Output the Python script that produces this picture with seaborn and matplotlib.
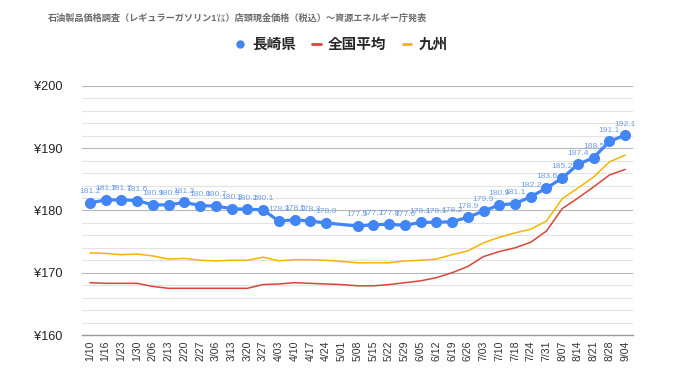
import numpy as np
import pandas as pd
import seaborn as sns
import matplotlib.pyplot as plt
from matplotlib.lines import Line2D
from matplotlib.ticker import MultipleLocator, FuncFormatter

# --- データ ---
dates = ['1/10', '1/16', '1/23', '1/30', '2/06', '2/13', '2/20', '2/27', '3/06', '3/13',
         '3/20', '3/27', '4/03', '4/10', '4/17', '4/24', '5/01', '5/08', '5/15', '5/22',
         '5/29', '6/05', '6/12', '6/19', '6/26', '7/03', '7/10', '7/18', '7/24', '7/31',
         '8/07', '8/14', '8/21', '8/28', '9/04']
nagasaki = [181.2, 181.7, 181.7, 181.6, 180.9, 180.9, 181.3, 180.8, 180.7, 180.3,
            180.2, 180.1, 178.3, 178.5, 178.3, 178.0, np.nan, 177.5, 177.7, 177.8,
            177.6, 178.1, 178.1, 178.2, 178.9, 179.9, 180.9, 181.1, 182.2, 183.6,
            185.2, 187.4, 188.5, 191.1, 192.1]
zenkoku = [168.4, 168.3, 168.3, 168.3, 167.8, 167.5, 167.5, 167.5, 167.5, 167.5,
           167.5, 168.1, 168.2, 168.4, 168.3, 168.2, 168.1, 167.9, 167.9, 168.1,
           168.4, 168.7, 169.2, 170.0, 171.0, 172.6, 173.4, 174.0, 174.9, 176.7,
           180.3, 182.0, 183.8, 185.7, 186.6]
kyushu = [173.2, 173.1, 172.9, 173.0, 172.7, 172.2, 172.3, 172.0, 171.9, 172.0,
          172.0, 172.5, 171.9, 172.1, 172.1, 172.0, 171.8, 171.6, 171.6, 171.6,
          171.9, 172.0, 172.2, 172.9, 173.5, 174.8, 175.7, 176.4, 177.0, 178.3,
          181.9, 183.6, 185.4, 187.8, 188.9]

title = '石油製品価格調査（レギュラーガソリン1㍑）店頭現金価格（税込）～資源エネルギー庁発表'

BLUE = '#4285f4'
RED = '#db4437'
YELLOW = '#f4b400'

sns.set_theme(style='white')
plt.rcParams['font.family'] = ['Liberation Sans', 'Noto Sans CJK JP', 'DejaVu Sans']

df = pd.DataFrame({'idx': range(len(dates)), '日付': dates,
                   '長崎県': nagasaki, '全国平均': zenkoku, '九州': kyushu})

fig = plt.figure(figsize=(6.8, 3.82), dpi=100)
ax = fig.add_axes([0.1206, 0.123, 0.8104, 0.652])

sns.lineplot(data=df, x='idx', y='全国平均', color=RED, lw=1.1, ax=ax, zorder=3)
sns.lineplot(data=df, x='idx', y='九州', color=YELLOW, lw=1.1, ax=ax, zorder=3)
sns.lineplot(data=df.dropna(subset=['長崎県']), x='idx', y='長崎県', color=BLUE, lw=2.3,
             marker='o', markersize=8, markeredgewidth=0, ax=ax, zorder=4)

# データラベル
for i, v in zip(df['idx'], df['長崎県']):
    if not np.isnan(v):
        ax.annotate(f'{v:.1f}', (i, v), xytext=(0, 5.5), textcoords='offset points',
                    ha='center', va='bottom', fontsize=6.1, color='#6d9eeb', zorder=5)

# 軸
ax.set_xlim(-0.5, len(dates) - 0.5)
ax.set_ylim(160, 200)
ax.set_xticks(range(len(dates)))
ax.set_xticklabels(dates, rotation=90, fontsize=7.6, color='#333333')
ax.yaxis.set_major_locator(MultipleLocator(10))
ax.yaxis.set_minor_locator(MultipleLocator(2))
ax.yaxis.set_major_formatter(FuncFormatter(lambda v, p: f'¥{v:.0f}'))
ax.tick_params(axis='y', which='both', length=0, labelsize=9.2, labelcolor='#222222', pad=14)
ax.tick_params(axis='x', direction='in', length=5, color='#999999', width=0.8, pad=4)
ax.grid(which='major', axis='y', color='#b7b7b7', lw=0.8)
ax.grid(which='minor', axis='y', color='#e2e2e2', lw=0.8)
ax.set_axisbelow(True)
ax.set_xlabel('')
ax.set_ylabel('')
sns.despine(ax=ax, left=True)
ax.spines['bottom'].set_color('#999999')
ax.spines['bottom'].set_linewidth(1)

# タイトル
fig.text(48 / 680, 1 - 18 / 382, title, fontsize=6.6, color='#6b6b6b',
         ha='left', va='center', fontweight='bold')

# 凡例
handles = [Line2D([], [], color=BLUE, marker='o', linestyle='', markersize=5),
           Line2D([], [], color=RED, lw=2),
           Line2D([], [], color=YELLOW, lw=2)]
fig.legend(handles, ['長崎県', '全国平均', '九州'], loc='center', bbox_to_anchor=(0.503, 0.882),
           ncol=3, frameon=False, prop={'weight': 'bold', 'size': 10.5},
           handlelength=0.6, handletextpad=0.5, columnspacing=1.1)

fig.savefig('out.png', dpi=100)
